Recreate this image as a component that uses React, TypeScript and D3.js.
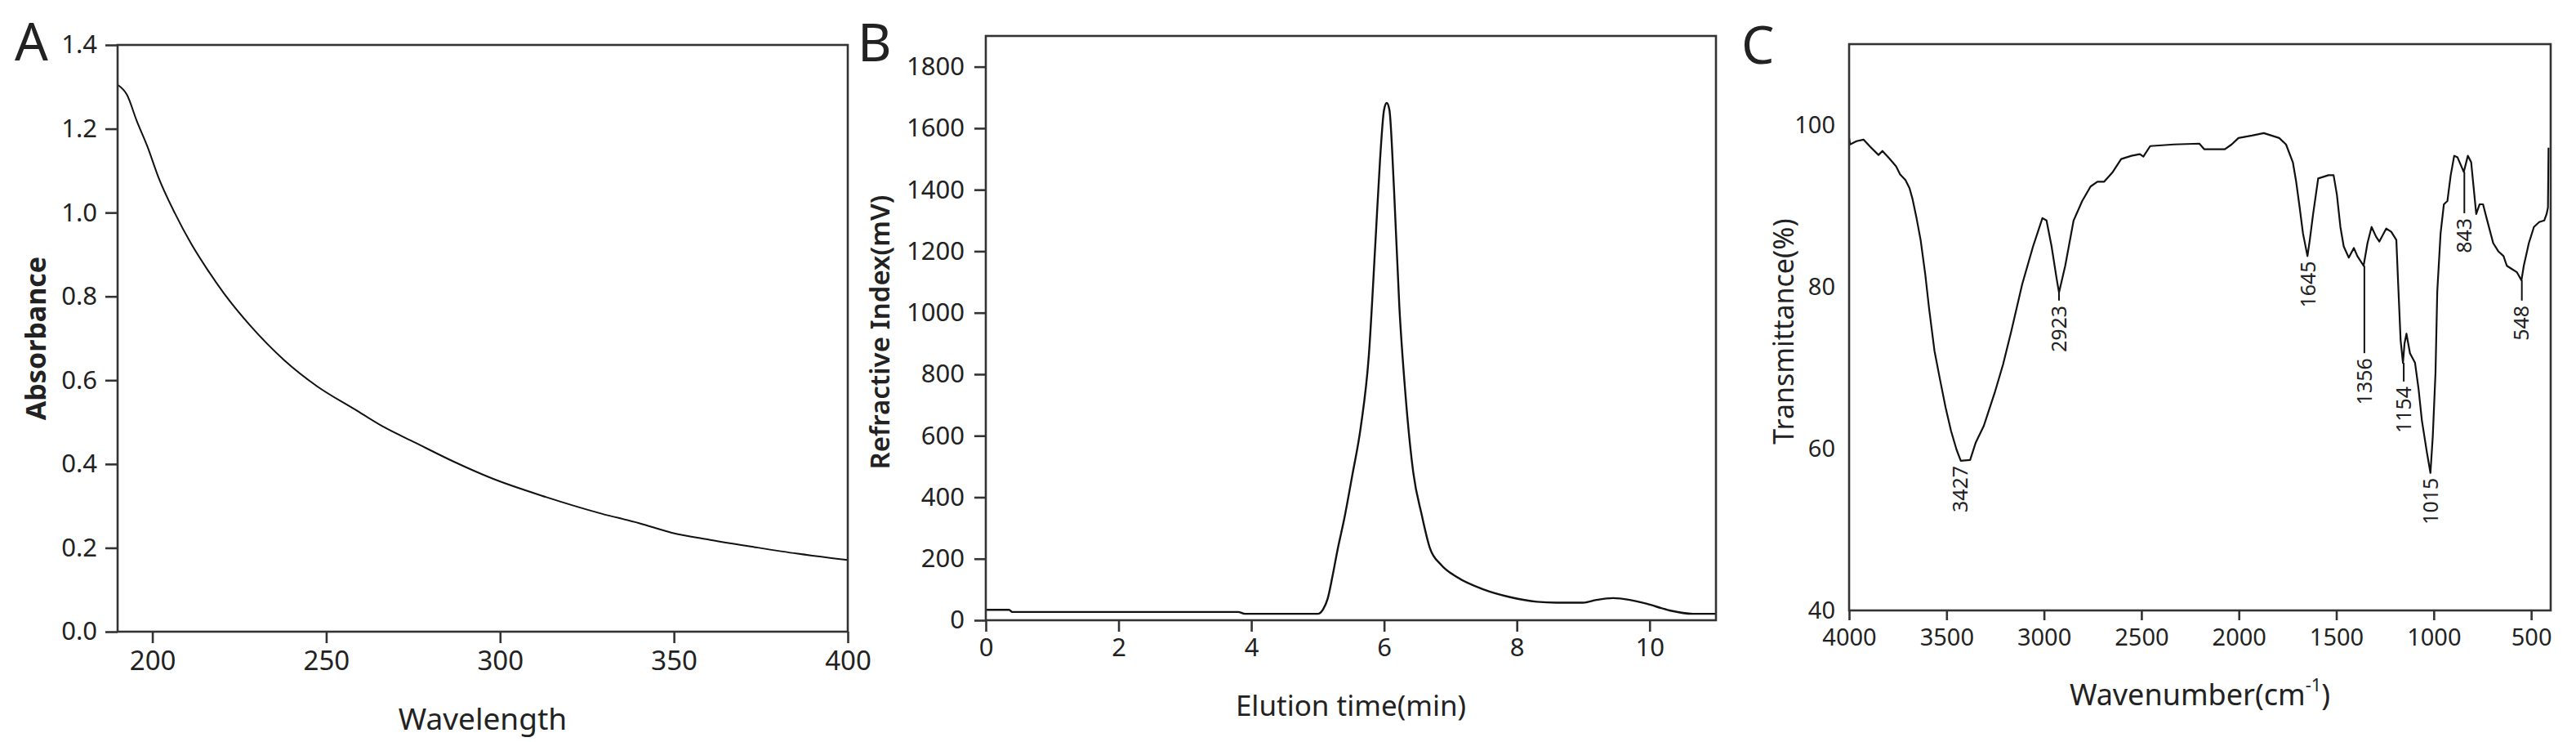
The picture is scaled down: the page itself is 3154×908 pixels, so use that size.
import React, { useEffect, useRef } from 'react';
import * as d3 from 'd3';

// panel A: UV-vis absorption
const uvWavelength = [190, 192.7, 195.5, 198.6, 201.8, 206.5, 211.2, 215.9, 220.6, 228.5, 237.9, 247.3, 258.3, 266.2, 275.6, 286.6, 297.6, 313.3, 329, 340, 349.4, 360.5, 373, 385.6, 400];
const uvAbsorbance = [1.305, 1.281, 1.219, 1.157, 1.083, 0.998, 0.925, 0.863, 0.807, 0.727, 0.648, 0.586, 0.53, 0.49, 0.451, 0.406, 0.366, 0.321, 0.282, 0.259, 0.236, 0.219, 0.202, 0.186, 0.171];
const uvXTicks = [200, 250, 300, 350, 400];
const uvYTicks = [0, 0.2, 0.4, 0.6, 0.8, 1.0, 1.2, 1.4];

// panel B: GPC elution
const gpcTime = [0, 0.35, 0.4, 3.8, 3.9, 5.0, 5.08, 5.15, 5.22, 5.3, 5.4, 5.52, 5.65, 5.77, 5.87, 5.94, 6.0, 6.04, 6.08, 6.15, 6.23, 6.32, 6.44, 6.57, 6.69, 6.86, 7.1, 7.5, 7.9, 8.3, 8.6, 9.0, 9.2, 9.45, 9.7, 9.95, 10.3, 10.65, 11.0];
const gpcSignal = [34, 34, 27, 27, 21, 21, 35, 70, 140, 230, 330, 470, 630, 860, 1230, 1500, 1660, 1682, 1660, 1400, 1020, 740, 480, 340, 235, 180, 140, 100, 75, 60, 57, 57, 66, 72, 66, 54, 32, 21, 21];
const gpcXTicks = [0, 2, 4, 6, 8, 10];
const gpcYTicks = [0, 200, 400, 600, 800, 1000, 1200, 1400, 1600, 1800];

// panel C: FT-IR
const irWavenumber = [4000, 3995, 3962, 3926, 3891, 3849, 3829, 3795, 3759, 3738, 3711, 3690, 3675, 3654, 3633, 3609, 3590, 3562, 3534, 3505, 3477, 3449, 3427, 3379, 3351, 3309, 3253, 3210, 3168, 3112, 3056, 3008, 2987, 2961, 2935, 2923, 2891, 2848, 2804, 2761, 2726, 2691, 2647, 2604, 2551, 2508, 2490, 2455, 2333, 2203, 2177, 2072, 2037, 2002, 1933, 1872, 1793, 1758, 1723, 1706, 1688, 1671, 1648, 1636, 1619, 1593, 1540, 1514, 1497, 1479, 1462, 1436, 1410, 1392, 1360, 1340, 1319, 1296, 1279, 1244, 1218, 1192, 1183, 1170, 1158, 1150, 1140, 1122, 1096, 1078, 1061, 1035, 1017, 1005, 991, 982, 965, 948, 930, 913, 895, 878, 846, 825, 808, 782, 765, 747, 730, 695, 669, 642, 625, 599, 573, 550, 538, 512, 486, 459, 433, 421, 414, 411];
const irTransmittance = [98.4, 97.6, 98.0, 98.2, 97.3, 96.3, 96.8, 95.9, 94.9, 93.9, 93.2, 92.2, 90.9, 88.5, 85.8, 81.5, 77.4, 72.1, 68.6, 65.1, 62.2, 59.9, 58.5, 58.6, 60.7, 62.8, 66.9, 70.4, 74.5, 80.3, 85.0, 88.5, 88.2, 85.0, 81.0, 79.3, 82.6, 88.2, 90.6, 92.4, 93.0, 93.0, 94.2, 95.8, 96.2, 96.4, 96.1, 97.4, 97.6, 97.7, 97.0, 97.0, 97.6, 98.4, 98.7, 99.0, 98.4, 97.6, 95.4, 93.0, 89.8, 86.6, 83.8, 85.8, 89.0, 93.4, 93.8, 93.8, 91.4, 87.4, 85.0, 83.6, 84.8, 83.8, 82.6, 85.4, 87.4, 86.2, 85.6, 87.2, 86.8, 85.8, 80.6, 73.4, 70.6, 73.0, 74.2, 71.8, 70.6, 67.4, 63.5, 59.5, 57.0, 61.5, 69.4, 79.4, 86.6, 90.2, 90.6, 93.8, 96.2, 96.0, 94.2, 96.2, 95.4, 89.0, 90.2, 90.2, 88.6, 85.4, 84.4, 83.8, 82.6, 82.2, 81.8, 80.8, 82.6, 85.4, 87.4, 88.0, 88.2, 89.0, 89.8, 97.2];
const irXTicks = [4000, 3500, 3000, 2500, 2000, 1500, 1000, 500];
const irYTicks = [40, 60, 80, 100];
const irPeaks = [3427, 2923, 1645, 1356, 1154, 1015, 843, 548];
const irPeakDepth = [58.5, 79.3, 83.8, 82.6, 70.6, 57.0, 94.2, 80.8];
const irLeaderEnd = [58.5, 78.3, 83.8, 71.8, 68.3, 57.0, 89.1, 78.3];

const FONT = '"Noto Sans", "Open Sans", sans-serif';
const INK = '#222';
const FRAME = '#333';

export default function App() {
    const svgRef = useRef<SVGSVGElement>(null);

    useEffect(() => {
        const svg = d3.select(svgRef.current).html('');
        svg.style('font-family', FONT);

        // shared helpers
        const drawFrame = (x0, x1, y0, y1) => {
            svg.append('rect')
                .attr('x', x0).attr('y', y0)
                .attr('width', x1 - x0).attr('height', y1 - y0)
                .attr('fill', 'none')
                .attr('stroke', FRAME)
                .attr('stroke-width', 2.6);
        };
        const styleAxis = (g, size) => {
            g.select('.domain').remove();
            g.selectAll('.tick line').attr('stroke', FRAME).attr('stroke-width', 2.6);
            g.selectAll('.tick text').attr('fill', INK).style('font-size', size + 'px').style('font-family', FONT);
        };
        const panelLetter = (x, y, t) => {
            svg.append('text').attr('x', x).attr('y', y)
                .style('font-size', '64px').attr('fill', INK).text(t);
        };

        // ---------- A ----------
        {
            const L = 144, R = 1038, T = 55, B = 773;
            const x = d3.scaleLinear().domain([190, 400]).range([L, R]);
            const y = d3.scaleLinear().domain([0, 1.4]).range([B, T]);
            const gy = svg.append('g').attr('transform', `translate(${L},0)`)
                .call(d3.axisLeft(y).tickValues(uvYTicks).tickFormat(d3.format('.1f')).tickSize(15).tickPadding(10));
            styleAxis(gy, 31);
            const gx = svg.append('g').attr('transform', `translate(0,${B})`)
                .call(d3.axisBottom(x).tickValues(uvXTicks).tickFormat(d3.format('d')).tickSize(14).tickPadding(10));
            styleAxis(gx, 33);

            const line = d3.line<number>()
                .x((d, i) => x(uvWavelength[i]))
                .y(d => y(d))
                .curve(d3.curveMonotoneX);
            svg.append('path').attr('d', line(uvAbsorbance))
                .attr('fill', 'none').attr('stroke', '#111').attr('stroke-width', 2);
            drawFrame(L, R, T, B);

            svg.append('text')
                .attr('transform', `translate(44,${(T + B) / 2}) rotate(-90)`)
                .attr('text-anchor', 'middle').attr('dy', '0.35em')
                .style('font-size', '34px').style('font-weight', 'bold').attr('fill', INK)
                .text('Absorbance');
            svg.append('text')
                .attr('x', (L + R) / 2).attr('y', 880).attr('dy', '0.35em')
                .attr('text-anchor', 'middle')
                .style('font-size', '37px').attr('fill', INK)
                .text('Wavelength');
            panelLetter(18, 74, 'A');
        }

        // ---------- B ----------
        {
            const L = 1207, R = 2101, T = 44, B = 759;
            const x = d3.scaleLinear().domain([0, 11]).range([L, R]);
            const y = d3.scaleLinear().domain([0, 1900]).range([B, T]);
            const gy = svg.append('g').attr('transform', `translate(${L},0)`)
                .call(d3.axisLeft(y).tickValues(gpcYTicks).tickFormat(d3.format('d')).tickSize(14).tickPadding(12));
            styleAxis(gy, 31);
            const gx = svg.append('g').attr('transform', `translate(0,${B})`)
                .call(d3.axisBottom(x).tickValues(gpcXTicks).tickFormat(d3.format('d')).tickSize(14).tickPadding(8));
            styleAxis(gx, 31);

            const line = d3.line<number>()
                .x((d, i) => x(gpcTime[i]))
                .y(d => y(d))
                .curve(d3.curveMonotoneX);
            svg.append('path').attr('d', line(gpcSignal))
                .attr('fill', 'none').attr('stroke', '#111').attr('stroke-width', 2.4);
            drawFrame(L, R, T, B);

            svg.append('text')
                .attr('transform', `translate(1077,${(T + B) / 2 + 5}) rotate(-90)`)
                .attr('text-anchor', 'middle').attr('dy', '0.35em')
                .style('font-size', '33px').style('font-weight', '600').attr('fill', INK)
                .text('Refractive Index(mV)');
            svg.append('text')
                .attr('x', (L + R) / 2).attr('y', 864).attr('dy', '0.35em')
                .attr('text-anchor', 'middle')
                .style('font-size', '35px').attr('fill', INK)
                .text('Elution time(min)');
            panelLetter(1050, 75, 'B');
        }

        // ---------- C ----------
        {
            const L = 2264, R = 3123, T = 54, B = 747;
            const x = d3.scaleLinear().domain([4000, 400]).range([L, R]);
            const y = d3.scaleLinear().domain([40, 110]).range([B, T]);
            const gy = svg.append('g').attr('transform', `translate(${L},0)`)
                .call(d3.axisLeft(y).tickValues(irYTicks).tickFormat(d3.format('d')).tickSize(0).tickPadding(17));
            styleAxis(gy, 29);
            const gx = svg.append('g').attr('transform', `translate(0,${B})`)
                .call(d3.axisBottom(x).tickValues(irXTicks).tickFormat(d3.format('d')).tickSize(12).tickPadding(10));
            styleAxis(gx, 29);

            const line = d3.line<number>()
                .x((d, i) => x(irWavenumber[i]))
                .y(d => y(d));
            svg.append('path').attr('d', line(irTransmittance))
                .attr('fill', 'none').attr('stroke', '#111').attr('stroke-width', 2.2)
                .attr('stroke-linejoin', 'round');
            drawFrame(L, R, T, B);

            // peak annotations
            irPeaks.forEach((p, i) => {
                const px = x(p);
                const y0 = y(irPeakDepth[i]);
                const y1 = y(irLeaderEnd[i]);
                if (y1 - y0 > 1) {
                    svg.append('line')
                        .attr('x1', px).attr('x2', px)
                        .attr('y1', y0).attr('y2', y1)
                        .attr('stroke', '#111').attr('stroke-width', 2);
                }
                svg.append('text')
                    .attr('transform', `translate(${px},${y1 + 6}) rotate(-90)`)
                    .attr('text-anchor', 'end').attr('dy', '0.35em')
                    .style('font-size', '25px').attr('fill', INK)
                    .text(String(p));
            });

            svg.append('text')
                .attr('transform', `translate(2184,${(T + B) / 2 + 5}) rotate(-90)`)
                .attr('text-anchor', 'middle').attr('dy', '0.35em')
                .style('font-size', '34px').attr('fill', INK)
                .text('Transmittance(%)');
            const xt = svg.append('text')
                .attr('x', (L + R) / 2).attr('y', 850).attr('dy', '0.35em')
                .attr('text-anchor', 'middle')
                .style('font-size', '36px').attr('fill', INK);
            xt.append('tspan').text('Wavenumber(cm');
            xt.append('tspan').attr('dy', '-0.75em').style('font-size', '22px').text('-1');
            xt.append('tspan').attr('dy', '0.47em').text(')');
            panelLetter(2132, 78, 'C');
        }
    }, []);

    return (
        <svg
            ref={svgRef}
            width={3154}
            height={908}
            style={{ position: 'absolute', left: 0, top: 0, background: '#fff' }}
        />
    );
}
